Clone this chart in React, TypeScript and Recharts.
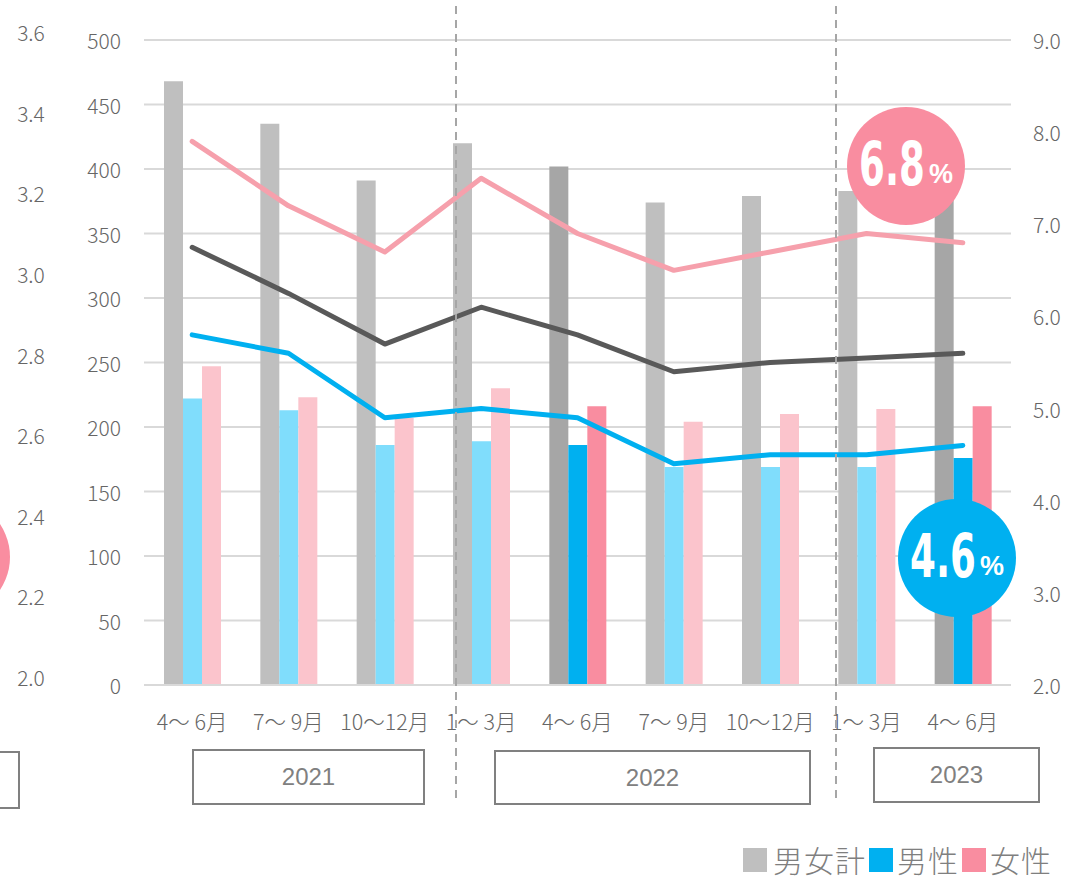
import { ComposedChart, Bar, Line, XAxis, YAxis, CartesianGrid, Cell } from 'recharts';

// 四半期ラベル
const periods = ['4～ 6月', '7～ 9月', '10～12月', '1～ 3月', '4～ 6月', '7～ 9月', '10～12月', '1～ 3月', '4～ 6月'];
const years = ['2021', '2022', '2023'];

// 人数（左軸）
const totalCount = [468, 435, 391, 420, 402, 374, 379, 383, 385];
const maleCount = [222, 213, 186, 189, 186, 169, 169, 169, 176];
const femaleCount = [247, 223, 207, 230, 216, 204, 210, 214, 216];

// 率（右軸, %）
const totalRate = [6.75, 6.25, 5.7, 6.1, 5.8, 5.4, 5.5, 5.55, 5.6];
const maleRate = [5.8, 5.6, 4.9, 5.0, 4.9, 4.4, 4.5, 4.5, 4.6];
const femaleRate = [7.9, 7.2, 6.7, 7.5, 6.9, 6.5, 6.7, 6.9, 6.8];

// 各年の 4～6月 を強調
const highlight = [false, false, false, false, true, false, false, false, true];

const countTicks = [0, 50, 100, 150, 200, 250, 300, 350, 400, 450, 500];
const rateTicks = [2, 3, 4, 5, 6, 7, 8, 9];
const ghostTicks = [2.0, 2.2, 2.4, 2.6, 2.8, 3.0, 3.2, 3.4, 3.6];

const data = periods.map((p, i) => ({
  period: p,
  total: totalCount[i],
  male: maleCount[i],
  female: femaleCount[i],
  totalRate: totalRate[i],
  maleRate: maleRate[i],
  femaleRate: femaleRate[i],
}));

const W = 1068;
const H = 882;
const FONT = "'Noto Sans CJK JP', 'Noto Sans', sans-serif";
const TXT = '#666666';

const C = {
  gray: '#BFBFBF',
  grayHi: '#A6A6A6',
  blue: '#80DDFC',
  blueHi: '#00B0F0',
  pink: '#FBC4CC',
  pinkHi: '#F98DA0',
  lineGray: '#595959',
  lineBlue: '#00B0F0',
  linePink: '#F6A0AC',
  grid: '#D9D9D9',
};

const GhostTick = (props: any) => (
  <text x={31} y={props.y - 8} textAnchor="middle" dominantBaseline="central"
    fontFamily={FONT} fontWeight={300} fontSize={21} fill={TXT}>
    {Number(props.payload.value).toFixed(1)}
  </text>
);

const CountTick = (props: any) => (
  <text x={121} y={props.y} textAnchor="end" dominantBaseline="central"
    fontFamily={FONT} fontWeight={300} fontSize={21} fill={TXT}>
    {props.payload.value}
  </text>
);

const RateTick = (props: any) => (
  <text x={1033} y={props.y} textAnchor="start" dominantBaseline="central"
    fontFamily={FONT} fontWeight={300} fontSize={21} fill={TXT}>
    {Number(props.payload.value).toFixed(1)}
  </text>
);

const PeriodTick = (props: any) => (
  <text x={props.x} y={720} textAnchor="middle" dominantBaseline="central"
    fontFamily={FONT} fontWeight={300} fontSize={21.5} fill={TXT}>
    {props.payload.value}
  </text>
);

const yearBoxes = [
  { left: 192, top: 749, width: 233, height: 56 },
  { left: 494, top: 750, width: 317, height: 55 },
  { left: 873, top: 747, width: 167, height: 56 },
];

const dashX = [456, 836];

// 丸いラベル（最新値）
const bubbles = [
  { cx: 906, cy: 166, color: C.pinkHi, value: femaleRate[8] },
  { cx: 957, cy: 558, color: C.blueHi, value: maleRate[8] },
];

export default function App() {
  return (
    <div style={{ position: 'absolute', left: 0, top: 0, width: W, height: H, overflow: 'hidden', background: '#fff' }}>
      <ComposedChart width={W} height={H} data={data}
        margin={{ top: 40, right: 0, bottom: 137, left: 0 }} barGap={0} barSize={19}>
        <CartesianGrid yAxisId="count" vertical={false} stroke={C.grid} strokeWidth={2} />
        <XAxis dataKey="period" height={60} tick={<PeriodTick />} tickLine={false}
          axisLine={{ stroke: C.grid, strokeWidth: 2 }} interval={0} />
        <YAxis yAxisId="ghost" orientation="left" width={72} domain={[2, 3.6]} ticks={ghostTicks}
          type="number" allowDataOverflow tick={<GhostTick />} axisLine={false} tickLine={false} />
        <YAxis yAxisId="count" orientation="left" width={72} domain={[0, 500]} ticks={countTicks}
          tick={<CountTick />} axisLine={false} tickLine={false} />
        <YAxis yAxisId="rate" orientation="right" width={57} domain={[2, 9]} ticks={rateTicks}
          tick={<RateTick />} axisLine={false} tickLine={false} />

        <Bar yAxisId="count" dataKey="total" isAnimationActive={false}>
          {data.map((_, i) => <Cell key={i} fill={highlight[i] ? C.grayHi : C.gray} />)}
        </Bar>
        <Bar yAxisId="count" dataKey="male" isAnimationActive={false}>
          {data.map((_, i) => <Cell key={i} fill={highlight[i] ? C.blueHi : C.blue} />)}
        </Bar>
        <Bar yAxisId="count" dataKey="female" isAnimationActive={false}>
          {data.map((_, i) => <Cell key={i} fill={highlight[i] ? C.pinkHi : C.pink} />)}
        </Bar>

        <Line yAxisId="rate" type="linear" dataKey="femaleRate" stroke={C.linePink} strokeWidth={5}
          dot={false} strokeLinecap="round" strokeLinejoin="round" isAnimationActive={false} />
        <Line yAxisId="rate" type="linear" dataKey="totalRate" stroke={C.lineGray} strokeWidth={5}
          dot={false} strokeLinecap="round" strokeLinejoin="round" isAnimationActive={false} />
        <Line yAxisId="rate" type="linear" dataKey="maleRate" stroke={C.lineBlue} strokeWidth={5}
          dot={false} strokeLinecap="round" strokeLinejoin="round" isAnimationActive={false} />
      </ComposedChart>

      <svg width={W} height={H} style={{ position: 'absolute', left: 0, top: 0, pointerEvents: 'none' }}>
        {/* 年度区切りの破線 */}
        {dashX.map((x) => (
          <line key={x} x1={x} x2={x} y1={6} y2={800} stroke="#A6A6A6" strokeWidth={2} strokeDasharray="8 6" />
        ))}
        {/* 左端に見切れている隣のグラフ */}
        <circle cx={-49} cy={557} r={59} fill={C.pinkHi} />
        <rect x={-200} y={752} width={219} height={56} fill="none" stroke="#808080" strokeWidth={2} />
        {bubbles.map((b) => (
          <g key={b.cx}>
            <circle cx={b.cx} cy={b.cy} r={59} fill={b.color} />
            <text transform={`translate(${b.cx - 47},${b.cy + 19}) scale(0.62,1)`} fill="#fff"
              fontWeight={700} fontFamily="'DejaVu Sans', sans-serif" fontSize={60}>
              {b.value.toFixed(1)}
            </text>
            <text x={b.cx + 23} y={b.cy + 17} fill="#fff" fontWeight={700}
              fontFamily="'Liberation Sans', sans-serif" fontSize={27}>
              %
            </text>
          </g>
        ))}
      </svg>

      {/* 年ラベル */}
      {years.map((y, i) => (
        <div key={y} style={{
          position: 'absolute', left: yearBoxes[i].left, top: yearBoxes[i].top,
          width: yearBoxes[i].width, height: yearBoxes[i].height, boxSizing: 'border-box',
          border: '2px solid #808080', display: 'flex', alignItems: 'center', justifyContent: 'center',
          fontFamily: "'Liberation Sans', Arial, sans-serif", fontSize: 24, color: '#808080', background: '#fff',
        }}>{y}</div>
      ))}

      {/* 凡例 */}
      <div style={{ position: 'absolute', left: 743, top: 843, display: 'flex', alignItems: 'center',
        fontFamily: FONT, fontSize: 30, color: '#7F7F7F', lineHeight: 1.1, fontWeight: 300 }}>
        <span style={{ width: 24, height: 24, background: C.gray, marginRight: 6 }} />
        <span style={{ letterSpacing: 1 }}>男女計</span>
        <span style={{ width: 24, height: 24, background: C.blueHi, margin: '0 4px 0 3px' }} />
        <span style={{ letterSpacing: 1 }}>男性</span>
        <span style={{ width: 24, height: 24, background: C.pinkHi, margin: '0 4px 0 3px' }} />
        <span style={{ letterSpacing: 1 }}>女性</span>
      </div>
    </div>
  );
}
